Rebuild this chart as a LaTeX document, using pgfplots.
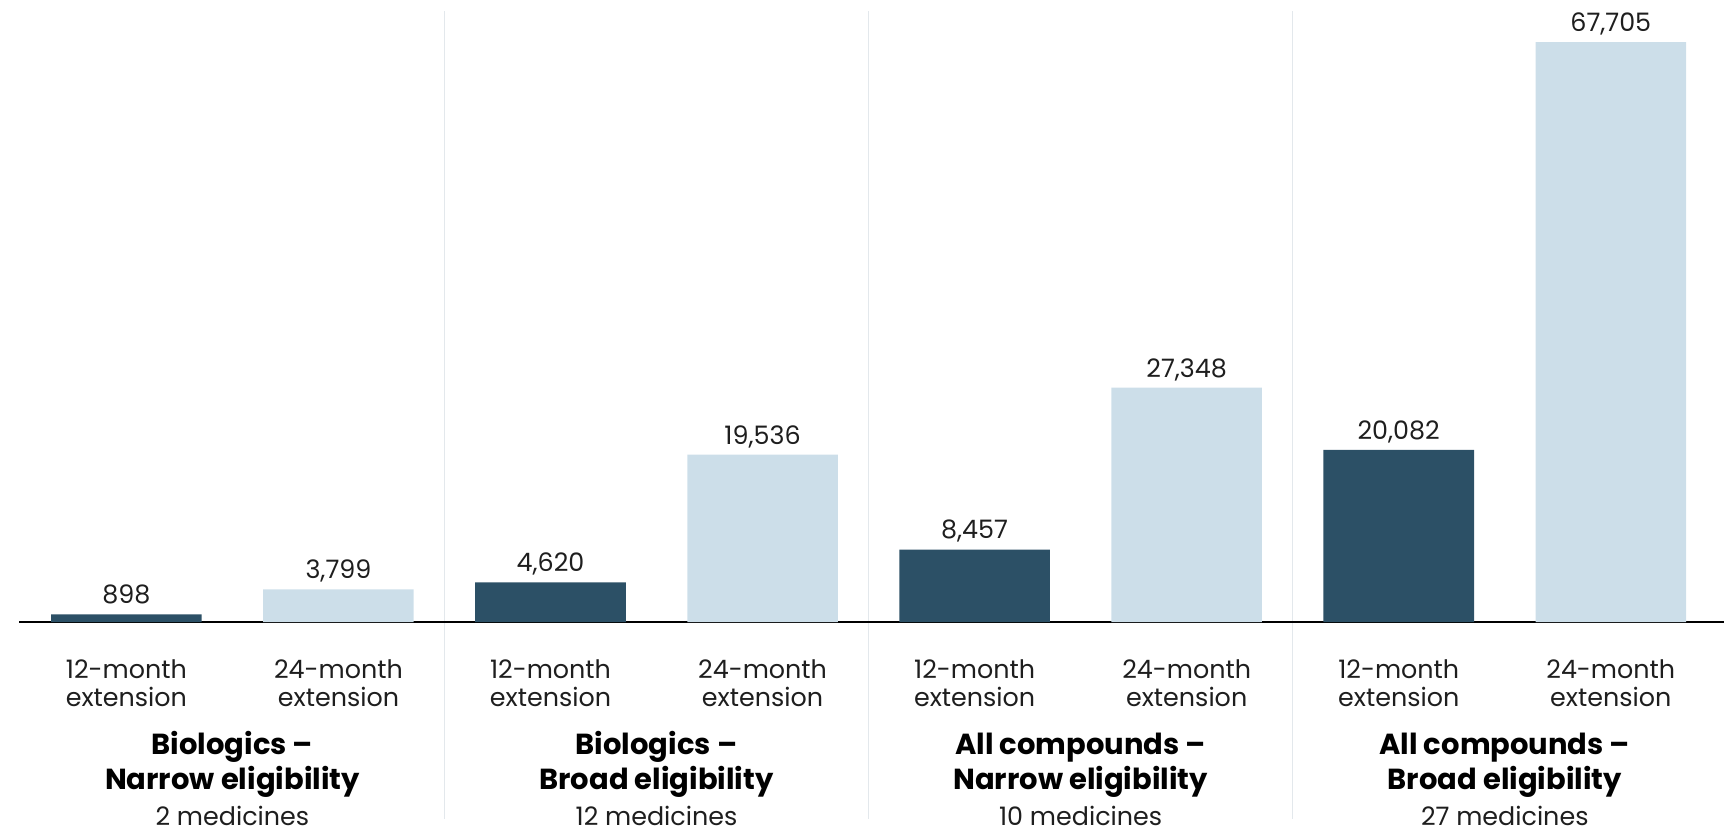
\documentclass[border=0pt]{standalone}
\usepackage{pgfplots}
\pgfplotsset{compat=1.18}
\usepackage{fontspec}
\setmainfont{Poppins}
\definecolor{darkbar}{HTML}{2C5066}
\definecolor{lightbar}{HTML}{CCDEE9}
\definecolor{divider}{HTML}{E3E8EC}
\definecolor{baseline}{HTML}{3A3A3A}
\definecolor{txt}{HTML}{1E1E1E}

\newcommand{\lab}{\fontsize{12.7}{15}\selectfont}
\newcommand{\ttl}{\fontsize{14.5}{17}\selectfont\bfseries}
\tikzset{cnt/.style={anchor=base, inner sep=0pt, text depth=0pt, text=txt, font=\lab}}

\begin{document}
\begin{tikzpicture}
\useasboundingbox (0,-105pt) rectangle (862pt,311pt);
\begin{axis}[
  at={(0,0)}, anchor=south west,
  scale only axis, width=862pt, height=311pt,
  xmin=-0.596, xmax=7.534, ymin=0, ymax=72609,
  hide axis, clip=false,
  /pgf/number format/assume math mode=true,
  /pgf/number format/.cd, fixed, precision=0, 1000 sep={,},
]
% group dividers
\pgfplotsinvokeforeach{1.5,3.5,5.5}{
  \draw[divider, line width=0.6pt] ([yshift=305.5pt]axis cs:#1,0) -- ([yshift=-98.5pt]axis cs:#1,0);
}
% baseline
\draw[baseline, line width=1pt] (axis cs:-0.506,0) -- (axis cs:7.534,0);

\addplot[ybar, bar width=0.71, bar shift=0pt, fill=darkbar, draw=none,
  nodes near coords,
  nodes near coords style={anchor=base, inner sep=0pt, yshift=5.3pt, text=txt, font=\lab}]
  coordinates {(0,898) (2,4620) (4,8457) (6,20082)};
\addplot[ybar, bar width=0.71, bar shift=0pt, fill=lightbar, draw=none,
  nodes near coords,
  nodes near coords style={anchor=base, inner sep=0pt, yshift=5.3pt, text=txt, font=\lab}]
  coordinates {(1,3799) (3,19536) (5,27348) (7,67705)};

% bar labels
\pgfplotsinvokeforeach{0,2,4,6}{
  \node[cnt] at ([yshift=-28pt]axis cs:#1,0) {12-month};
  \node[cnt] at ([yshift=-42.2pt]axis cs:#1,0) {extension};
}
\pgfplotsinvokeforeach{1,3,5,7}{
  \node[cnt] at ([yshift=-28pt]axis cs:#1,0) {24-month};
  \node[cnt] at ([yshift=-42.2pt]axis cs:#1,0) {extension};
}

% group titles
\node[anchor=base, inner sep=0pt, font=\ttl] at ([yshift=-66.3pt]axis cs:0.5,0) {Biologics –};
\node[anchor=base, inner sep=0pt, font=\ttl] at ([yshift=-83.8pt]axis cs:0.5,0) {Narrow eligibility};
\node[cnt] at ([yshift=-101.8pt]axis cs:0.5,0) {2 medicines};

\node[anchor=base, inner sep=0pt, font=\ttl] at ([yshift=-66.3pt]axis cs:2.5,0) {Biologics –};
\node[anchor=base, inner sep=0pt, font=\ttl] at ([yshift=-83.8pt]axis cs:2.5,0) {Broad eligibility};
\node[cnt] at ([yshift=-101.8pt]axis cs:2.5,0) {12 medicines};

\node[anchor=base, inner sep=0pt, font=\ttl] at ([yshift=-66.3pt]axis cs:4.5,0) {All compounds –};
\node[anchor=base, inner sep=0pt, font=\ttl] at ([yshift=-83.8pt]axis cs:4.5,0) {Narrow eligibility};
\node[cnt] at ([yshift=-101.8pt]axis cs:4.5,0) {10 medicines};

\node[anchor=base, inner sep=0pt, font=\ttl] at ([yshift=-66.3pt]axis cs:6.5,0) {All compounds –};
\node[anchor=base, inner sep=0pt, font=\ttl] at ([yshift=-83.8pt]axis cs:6.5,0) {Broad eligibility};
\node[cnt] at ([yshift=-101.8pt]axis cs:6.5,0) {27 medicines};
\end{axis}
\end{tikzpicture}
\end{document}
